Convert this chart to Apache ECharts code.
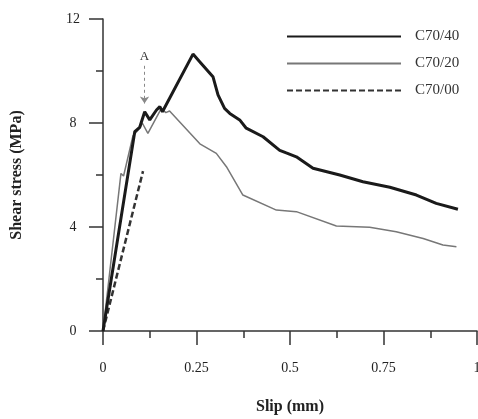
<!DOCTYPE html>
<html>
<head>
<meta charset="utf-8">
<script src="https://cdn.jsdelivr.net/npm/echarts@6/dist/echarts.min.js"></script>
<style>
    html, body { margin: 0; padding: 0; background: #fff; }
    #chart { width: 478px; height: 419px; }
</style>
</head>
<body>
<div id="chart"></div>
<script>
const seriesNames = ['C70/40', 'C70/20', 'C70/00'];

const slip40 = [0, 0.085, 0.098, 0.1115, 0.125, 0.143, 0.152, 0.159, 0.2406, 0.2585, 0.294, 0.3075, 0.325, 0.339, 0.3655, 0.383, 0.428, 0.4725, 0.49, 0.517, 0.5615, 0.633, 0.695, 0.767, 0.838, 0.891, 0.949];
const stress40 = [0, 7.67, 7.83, 8.43, 8.12, 8.5, 8.63, 8.43, 10.65, 10.36, 9.78, 9.08, 8.56, 8.37, 8.12, 7.8, 7.47, 6.95, 6.85, 6.7, 6.26, 6.0, 5.74, 5.53, 5.23, 4.91, 4.68];

const slip20 = [0, 0.048, 0.055, 0.08, 0.098, 0.105, 0.12, 0.156, 0.168, 0.178, 0.259, 0.303, 0.33, 0.374, 0.4636, 0.517, 0.624, 0.713, 0.784, 0.856, 0.909, 0.945];
const stress20 = [0, 6.06, 5.96, 7.5, 7.8, 8.0, 7.6, 8.56, 8.4, 8.46, 7.2, 6.83, 6.32, 5.23, 4.65, 4.59, 4.04, 3.99, 3.82, 3.56, 3.31, 3.24];

const slip00 = [0, 0.107];
const stress00 = [0, 6.15];

// arrow "A" marks the first peak of C70/40
const arrowSlip = 0.111;
const arrowFrom = 10.2;
const arrowTo = 8.75;

const serif = '"Liberation Serif", "DejaVu Serif", serif';

function zip(xs, ys) {
    return xs.map((x, i) => [x, ys[i]]);
}

const axisCommon = {
    axisLine: { lineStyle: { color: '#333', width: 1.5 } },
    axisTick: { length: 14, lineStyle: { color: '#333', width: 1.5 } },
    minorTick: { show: true, splitNumber: 2, length: 7, lineStyle: { color: '#333', width: 1.5 } },
    splitLine: { show: false },
    nameTextStyle: { fontFamily: serif, fontWeight: 'bold', fontSize: 16, color: '#222' }
};

const chart = echarts.init(document.getElementById('chart'));
chart.setOption({
    backgroundColor: '#fff',
    animation: false,
    grid: { left: 103, right: 1, top: 19, bottom: 88, outerBoundsMode: 'none', containLabel: false },
    legend: {
        orient: 'vertical',
        left: 281,
        top: 24,
        itemWidth: 114,
        itemHeight: 14,
        itemGap: 12,
        data: seriesNames,
        itemStyle: { opacity: 0 },
        textStyle: { fontFamily: serif, fontSize: 15, color: '#333', padding: [0, 0, 0, 9] }
    },
    xAxis: Object.assign({}, axisCommon, {
        type: 'value',
        min: 0, max: 1, interval: 0.25,
        name: 'Slip (mm)',
        nameLocation: 'middle',
        nameGap: 68,
        axisLabel: { margin: 30, fontFamily: serif, fontSize: 14, color: '#222', formatter: v => String(v) }
    }),
    yAxis: Object.assign({}, axisCommon, {
        type: 'value',
        min: 0, max: 12, interval: 4,
        name: 'Shear stress (MPa)',
        nameLocation: 'middle',
        nameGap: 78,
        axisLabel: { margin: 30, align: 'center', fontFamily: serif, fontSize: 14, color: '#222' }
    }),
    series: [
        {
            name: seriesNames[0], type: 'line', symbol: 'none',
            data: zip(slip40, stress40),
            lineStyle: { color: '#1a1a1a', width: 3 },
            itemStyle: { color: '#1a1a1a' },
            z: 3,
            markLine: {
                silent: true,
                symbol: ['none', 'arrow'],
                symbolSize: 7,
                lineStyle: { color: '#888', width: 1, type: [3, 3] },
                label: { show: true, position: 'start', formatter: 'A', fontFamily: serif, fontSize: 13, color: '#333', distance: 3 },
                data: [[{ coord: [arrowSlip, arrowFrom] }, { coord: [arrowSlip, arrowTo] }]]
            }
        },
        {
            name: seriesNames[1], type: 'line', symbol: 'none',
            data: zip(slip20, stress20),
            lineStyle: { color: '#777', width: 1.5 },
            itemStyle: { color: '#777' },
            z: 2
        },
        {
            name: seriesNames[2], type: 'line', symbol: 'none',
            data: zip(slip00, stress00),
            lineStyle: { color: '#333', width: 2.5, type: [6, 3] },
            itemStyle: { color: '#333' },
            z: 2
        }
    ]
});
</script>
</body>
</html>
